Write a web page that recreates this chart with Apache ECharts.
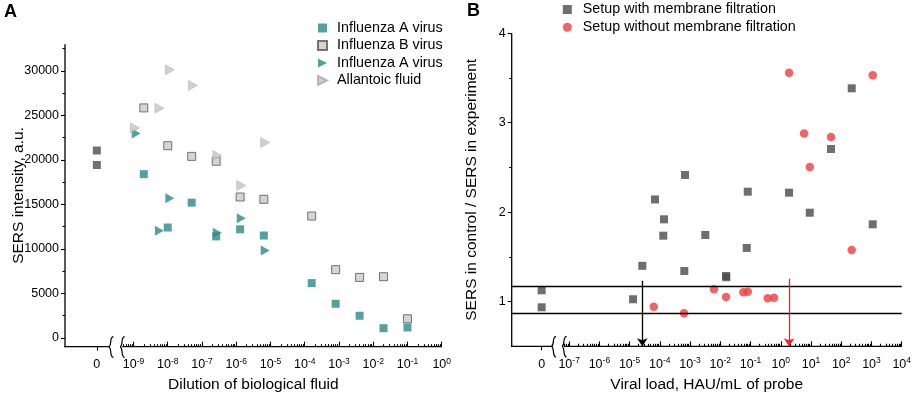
<!DOCTYPE html>
<html>
<head>
<meta charset="utf-8">
<script src="https://cdn.jsdelivr.net/npm/echarts@6/dist/echarts.min.js"></script>
<style>
  html, body { margin: 0; padding: 0; background: #fff; }
  #chart { width: 913px; height: 398px; }
</style>
</head>
<body>
<div id="chart"></div>
<script>
// ---- panel A: SERS intensity vs dilution ----
var dilutionA = [2e-9, 1e-8, 5e-8, 2.6e-7, 1.3e-6, 6.4e-6, 1.6e-4, 8e-4, 4e-3, 2e-2, 0.1];
var fluASquare = [18400, 12400, 15200, 11400, 12200, 11500, 6150, 3830, 2480, 1080, 1160];
var fluBSquare = [25850, 21600, 20400, 19850, 15830, 15570, 13690, 7660, 6790, 6870, 2140];
var dilutionTri = [1.2e-9, 5.7e-9, 1.15e-8, 2.8e-7, 1.4e-6, 7e-6];
var fluATri = [22970, 12050, 15690, 11820, 13430, 9830];
var dilutionAllantoic = [1.1e-9, 5.7e-9, 1.15e-8, 5.4e-8, 2.8e-7, 1.4e-6, 7e-6];
var allantoic = [23600, 25820, 30130, 28380, 20490, 17120, 21960];
var controlA = [21060, 19430]; // dilution = 0

var yTicksA = [0, 5000, 10000, 15000, 20000, 25000, 30000];
var decadesA = [-9, -8, -7, -6, -5, -4, -3, -2, -1, 0];

// ---- panel B: ratio vs viral load ----
var loadWith = [0, 0, 1.3e-5, 2.63e-5, 6.9e-5, 1.37e-4, 1.3e-4, 6.45e-4, 6.8e-4, 3.19e-3,
  1.55e-2, 1.58e-2, 7.5e-2, 8.1e-2, 1.88, 9.1, 45.9, 222, 1100];
var ratioWith = [1.126, 0.936, 1.026, 1.40, 2.142, 1.92, 1.737, 1.342, 2.416, 1.745,
  1.286, 1.272, 1.60, 2.229, 2.218, 1.994, 2.706, 3.385, 1.864];
var loadWithout = [6.3e-5, 6.3e-4, 6.2e-3, 1.55e-2, 5.8e-2, 8.1e-2, 0.37, 0.60,
  1.88, 5.9, 9.1, 45.9, 222, 1100];
var ratioWithout = [0.943, 0.869, 1.137, 1.051, 1.104, 1.111, 1.037, 1.044,
  3.56, 2.88, 2.505, 2.84, 1.577, 3.53];
var thresholds = [0.872, 1.166];
var detectLimits = [2.63e-5, 1.88];   // black, red arrow
var arrowTop = [1.233, 1.256];

var yTicksB = [1, 2, 3, 4];
var decadesB = [-7, -6, -5, -4, -3, -2, -1, 0, 1, 2, 3, 4];

// axis ranges (x in log10 units) and the break layout
var RANGE_A = { x: [-11, 0], y: [-1000, 33000] };
var RANGE_B = { x: [-8.9, 4], y: [0.5, 4] };
var ZERO_A = -10.07, BREAK_A = [-9.69, -9.36];
var ZERO_B = -7.91, BREAK_B = [-7.55, -7.2];

var FONT = "'Liberation Sans', Arial, sans-serif";
var TEAL = '#2b8a8a';
var TRI_RIGHT = 'path://M0,0 L10,5 L0,10 Z';

function toLog(v, zero) { return v === 0 ? zero : Math.log10(v); }
function pairs(xs, ys, zero) {
  return xs.map(function (x, i) { return [toLog(x, zero), ys[i]]; });
}
function minorTicks(decades, brk) {
  var out = [];
  for (var d = decades[0] - 1; d < decades[decades.length - 1]; d++) {
    for (var k = 2; k <= 9; k++) {
      var v = d + Math.log10(k);
      if (v > brk + 0.03) out.push(v);
    }
  }
  return out;
}
function labelFn(zero) {
  return function (v) {
    if (Math.abs(v - zero) < 1e-6) return '{b|0}';
    return '{b|10}{s|' + Math.round(v) + '}';
  };
}
var richLbl = {
  b: { fontSize: 12.5, color: '#000', fontFamily: FONT, lineHeight: 16 },
  s: { fontSize: 8.5, color: '#000', fontFamily: FONT, verticalAlign: 'top', lineHeight: 16 }
};
var nameStyle = { fontSize: 15.5, color: '#000', fontFamily: FONT };
var tickStyle = { color: '#000', width: 1.1 };

function xAxes(grid, r, zero, decades, brk, name, nameGap) {
  var base = {
    gridIndex: grid, type: 'value', min: r.x[0], max: r.x[1], position: 'bottom',
    splitLine: { show: false }, axisPointer: { show: false },
    axisLine: { show: false, onZero: false }
  };
  return [
    Object.assign({}, base, {
      axisTick: { show: true, customValues: [zero], inside: false, length: 4, lineStyle: tickStyle },
      axisLabel: { customValues: [zero].concat(decades), formatter: labelFn(zero), rich: richLbl, margin: 10 },
      name: name, nameLocation: 'middle', nameGap: nameGap, nameTextStyle: nameStyle, nameMoveOverlap: false
    }),
    Object.assign({}, base, {
      axisTick: { show: true, customValues: decades, inside: true, length: 5, lineStyle: tickStyle },
      axisLabel: { show: false }
    }),
    Object.assign({}, base, {
      axisTick: { show: true, customValues: minorTicks(decades, brk[1]), inside: true, length: 2.5, lineStyle: tickStyle },
      axisLabel: { show: false }
    })
  ];
}
function yAxes(grid, r, ticks, minor, name, nameGap) {
  var base = {
    gridIndex: grid, type: 'value', min: r.y[0], max: r.y[1], position: 'left',
    splitLine: { show: false }, axisPointer: { show: false },
    axisLine: { show: false, onZero: false }
  };
  return [
    Object.assign({}, base, {
      axisTick: { show: true, customValues: ticks, length: 4, lineStyle: tickStyle },
      axisLabel: {
        customValues: ticks, color: '#000', fontSize: 12.5, fontFamily: FONT, margin: 6,
        formatter: function (v) { return String(v); }
      },
      name: name, nameLocation: 'middle', nameGap: nameGap, nameTextStyle: nameStyle, nameMoveOverlap: false
    }),
    Object.assign({}, base, {
      axisTick: { show: true, customValues: minor, length: 2.5, lineStyle: tickStyle },
      axisLabel: { show: false }
    })
  ];
}

var chart = echarts.init(document.getElementById('chart'), null, { renderer: 'canvas' });

var legendText = { fontSize: 14.3, color: '#000', fontFamily: FONT, lineHeight: 15 };
var option = {
  animation: false,
  backgroundColor: '#fff',
  textStyle: { fontFamily: FONT },
  grid: [
    { left: 65, right: 471.3, top: 44.3, bottom: 51.3, outerBoundsMode: 'none' },
    { left: 511.7, right: 11.3, top: 33.3, bottom: 51.7, outerBoundsMode: 'none' }
  ],
  legend: [
    {
      data: [
        { name: 'Influenza A virus' },
        { name: 'Influenza B virus' },
        { name: 'Influenza A virus ', icon: TRI_RIGHT },
        { name: 'Allantoic fluid', icon: TRI_RIGHT }
      ],
      orient: 'vertical', left: 312, top: 15.5, itemWidth: 9, itemHeight: 9, itemGap: 2.5,
      selectedMode: false,
      textStyle: Object.assign({ padding: [0, 0, 0, 5] }, legendText)
    },
    {
      data: ['Setup with membrane filtration', 'Setup without membrane filtration'],
      orient: 'vertical', left: 557.8, top: -3, itemWidth: 9, itemHeight: 9, itemGap: 2.7,
      selectedMode: false,
      textStyle: Object.assign({ padding: [0, 0, 0, 6] }, legendText)
    }
  ],
  xAxis: []
    .concat(xAxes(0, RANGE_A, ZERO_A, decadesA, BREAK_A, 'Dilution of biological fluid', 30))
    .concat(xAxes(1, RANGE_B, ZERO_B, decadesB, BREAK_B, 'Viral load, HAU/mL of probe', 30)),
  yAxis: []
    .concat(yAxes(0, RANGE_A, yTicksA,
      [2500, 7500, 12500, 17500, 22500, 27500, 32500], 'SERS intensity, a.u.', 38))
    .concat(yAxes(1, RANGE_B, yTicksB, [1.5, 2.5, 3.5], 'SERS in control / SERS in experiment', 32)),
  series: [
    {
      name: 'control', type: 'scatter', xAxisIndex: 0, yAxisIndex: 0,
      symbol: 'rect', symbolSize: 8, itemStyle: { color: '#4d4d4d' },
      data: pairs([0, 0], controlA, ZERO_A)
    },
    {
      name: 'Influenza A virus', type: 'scatter', xAxisIndex: 0, yAxisIndex: 0,
      symbol: 'rect', symbolSize: 8, itemStyle: { color: TEAL },
      data: pairs(dilutionA, fluASquare, ZERO_A)
    },
    {
      name: 'Influenza B virus', type: 'scatter', xAxisIndex: 0, yAxisIndex: 0,
      symbol: 'rect', symbolSize: 8,
      itemStyle: { color: '#cacaca', borderColor: '#555', borderWidth: 1 },
      data: pairs(dilutionA, fluBSquare, ZERO_A)
    },
    {
      name: 'Influenza A virus ', type: 'scatter', xAxisIndex: 0, yAxisIndex: 0,
      symbol: TRI_RIGHT, symbolSize: [9, 10], itemStyle: { color: TEAL },
      data: pairs(dilutionTri, fluATri, ZERO_A)
    },
    {
      name: 'Allantoic fluid', type: 'scatter', xAxisIndex: 0, yAxisIndex: 0,
      symbol: TRI_RIGHT, symbolSize: [9, 10],
      itemStyle: { color: '#c4c4c4', borderColor: '#aaa', borderWidth: 0.6 },
      data: pairs(dilutionAllantoic, allantoic, ZERO_A)
    },
    {
      name: 'Setup with membrane filtration', type: 'scatter', xAxisIndex: 3, yAxisIndex: 2,
      symbol: 'rect', symbolSize: 8, itemStyle: { color: '#4a4a4a' },
      data: pairs(loadWith, ratioWith, ZERO_B),
      markLine: {
        silent: true, symbol: 'none', label: { show: false },
        lineStyle: { color: '#000', width: 1.3, type: 'solid' },
        data: [
          { yAxis: thresholds[0] },
          { yAxis: thresholds[1] },
          [
            { coord: [Math.log10(detectLimits[0]), arrowTop[0]], symbol: 'none', lineStyle: { color: '#000', width: 1.3 } },
            { coord: [Math.log10(detectLimits[0]), 0.5], symbol: 'arrow', symbolSize: 8 }
          ],
          [
            { coord: [Math.log10(detectLimits[1]), arrowTop[1]], symbol: 'none', lineStyle: { color: '#ee2222', width: 1.3 } },
            { coord: [Math.log10(detectLimits[1]), 0.5], symbol: 'arrow', symbolSize: 8 }
          ]
        ]
      }
    },
    {
      name: 'Setup without membrane filtration', type: 'scatter', xAxisIndex: 3, yAxisIndex: 2,
      symbol: 'circle', symbolSize: 8.5, itemStyle: { color: '#f03c3c' },
      data: pairs(loadWithout, ratioWithout, ZERO_B)
    }
  ]
};
chart.setOption(option);

// axis lines (bottom line broken at the axis break), break marks, panel letters
function axisFrame(xIdx, yIdx, r, brk) {
  var px = function (v) { return chart.convertToPixel({ xAxisIndex: xIdx }, v); };
  var py = function (v) { return chart.convertToPixel({ yAxisIndex: yIdx }, v); };
  var y0 = py(r.y[0]), yTop = py(r.y[1]);
  var xL = px(r.x[0]), xR = px(r.x[1]);
  var x1 = px(brk[0]), x2 = px(brk[1]);
  var st = { stroke: '#000', lineWidth: 1.3 };
  var out = [
    { type: 'line', z: 100, shape: { x1: xL, y1: yTop, x2: xL, y2: y0 + 0.6 }, style: st },
    { type: 'line', z: 100, shape: { x1: xL - 0.6, y1: y0, x2: x1, y2: y0 }, style: st },
    { type: 'line', z: 100, shape: { x1: x2 + 1, y1: y0, x2: xR, y2: y0 }, style: st }
  ];
  [x1, x2].forEach(function (x) {
    out.push({
      type: 'bezierCurve', z: 101,
      shape: { x1: x + 3.5, y1: y0 - 10, cpx1: x - 1, cpy1: y0 - 9, cpx2: x + 2.5, cpy2: y0 - 2, x2: x - 1, y2: y0 },
      style: { fill: null, stroke: '#000', lineWidth: 1.2 }
    }, {
      type: 'bezierCurve', z: 101,
      shape: { x1: x - 1, y1: y0, cpx1: x + 2.5, cpy1: y0 + 2, cpx2: x - 1, cpy2: y0 + 9, x2: x + 3.5, y2: y0 + 11 },
      style: { fill: null, stroke: '#000', lineWidth: 1.2 }
    });
  });
  return out;
}
var graphics = []
  .concat(axisFrame(0, 0, RANGE_A, BREAK_A))
  .concat(axisFrame(3, 2, RANGE_B, BREAK_B));
graphics.push(
  { type: 'text', x: 4, y: 12, style: { text: 'A', font: 'bold 18px ' + FONT, fill: '#000', textVerticalAlign: 'middle' } },
  { type: 'text', x: 467, y: 11, style: { text: 'B', font: 'bold 18px ' + FONT, fill: '#000', textVerticalAlign: 'middle' } }
);
chart.setOption({ graphic: graphics });
</script>
</body>
</html>
